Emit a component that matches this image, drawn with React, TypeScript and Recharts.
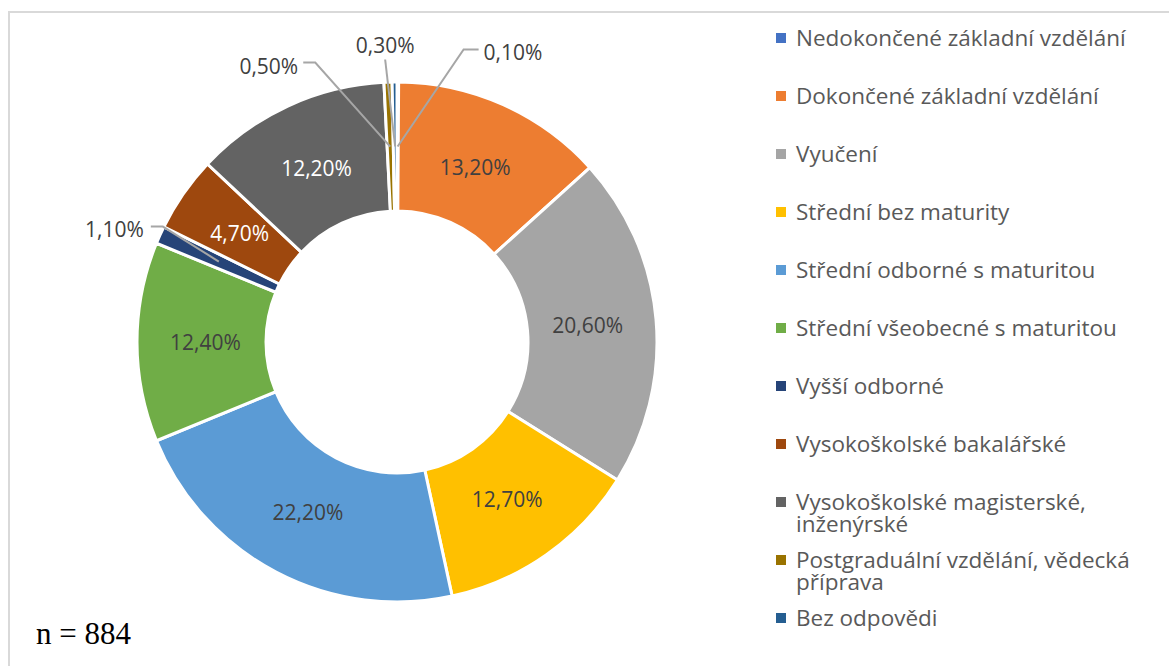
import React from 'react';
import { PieChart, Pie, Cell, Legend } from 'recharts';

const categories = [
  'Nedokončené základní vzdělání',
  'Dokončené základní vzdělání',
  'Vyučení',
  'Střední bez maturity',
  'Střední odborné s maturitou',
  'Střední všeobecné s maturitou',
  'Vyšší odborné',
  'Vysokoškolské bakalářské',
  'Vysokoškolské magisterské, inženýrské',
  'Postgraduální vzdělání, vědecká příprava',
  'Bez odpovědi',
];

const values = [0.1, 13.2, 20.6, 12.7, 22.2, 12.4, 1.1, 4.7, 12.2, 0.5, 0.3];

const colors = [
  '#4472C4',
  '#ED7D31',
  '#A5A5A5',
  '#FFC000',
  '#5B9BD5',
  '#70AD47',
  '#264478',
  '#9E480E',
  '#636363',
  '#997300',
  '#255E91',
];

const sampleNote = 'n = 884';

const FONT = '"Open Sans", "Noto Sans", sans-serif';
const LABEL_DARK = '#404040';
const LABEL_LIGHT = '#ffffff';
const whiteLabelIdx = [7, 8];

// Leader-line label placement (offsets from slice anchor), styling only
const outsidePlacement: Record<number, { elbow?: [number, number]; end: [number, number]; text: [number, number]; anchor: 'start' | 'middle' | 'end' }> = {
  0: { elbow: [66, -97], end: [81, -97], text: [86, -95], anchor: 'start' },
  10: { end: [-10, -87], text: [-10, -102], anchor: 'middle' },
  9: { elbow: [-75, -84], end: [-87, -84], text: [-92, -81], anchor: 'end' },
  6: { elbow: [-56, -35], end: [-68, -35], text: [-75, -33], anchor: 'end' },
};

const data = categories.map((name, i) => ({ name, value: values[i], fill: colors[i] }));

const fmt = (v: number) => v.toFixed(2).replace('.', ',') + '%';

const RAD = Math.PI / 180;

const renderLabel = (props: any) => {
  const { cx, cy, midAngle, innerRadius, outerRadius, index } = props;
  const r = (innerRadius + outerRadius) / 2;
  const ax = cx + r * Math.cos(-midAngle * RAD);
  const ay = cy + r * Math.sin(-midAngle * RAD);
  const text = fmt(values[index]);
  const place = outsidePlacement[index];
  if (place) {
    const pts: [number, number][] = [[ax, ay]];
    if (place.elbow) pts.push([ax + place.elbow[0], ay + place.elbow[1]]);
    pts.push([ax + place.end[0], ay + place.end[1]]);
    return (
      <g key={`lbl-${index}`}>
        <polyline
          points={pts.map((p) => p.join(',')).join(' ')}
          fill="none"
          stroke="#A6A6A6"
          strokeWidth={2}
        />
        <text
          x={ax + place.text[0]}
          y={ay + place.text[1]}
          textAnchor={place.anchor}
          dominantBaseline="central"
          fontFamily={FONT}
          fontSize={21}
          fill={LABEL_DARK}
        >
          {text}
        </text>
      </g>
    );
  }
  const ri = r - 4;
  const x = cx + ri * Math.cos(-midAngle * RAD);
  const y = cy + ri * Math.sin(-midAngle * RAD);
  return (
    <text
      key={`lbl-${index}`}
      x={x}
      y={y}
      textAnchor="middle"
      dominantBaseline="central"
      fontFamily={FONT}
      fontSize={21}
      fill={whiteLabelIdx.includes(index) ? LABEL_LIGHT : LABEL_DARK}
    >
      {text}
    </text>
  );
};

const renderLegend = () => (
  <div style={{ fontFamily: FONT, fontSize: 22.5, color: '#595959' }}>
    {categories.map((c, i) => (
      <div key={c} style={{ display: 'flex', alignItems: 'flex-start', height: 58 }}>
        <span
          style={{
            width: 10,
            height: 10,
            background: colors[i],
            marginTop: 6,
            marginRight: 10,
            flex: 'none',
            display: 'inline-block',
          }}
        />
        <span style={{ lineHeight: '22px', width: 368, whiteSpace: 'normal' }}>{c}</span>
      </div>
    ))}
  </div>
);

export default function App() {
  return (
    <div
      style={{
        position: 'absolute',
        left: 0,
        top: 0,
        width: 1169,
        height: 666,
        overflow: 'hidden',
        background: '#ffffff',
      }}
    >
      <div
        style={{
          position: 'absolute',
          left: 8,
          top: 11,
          width: 1300,
          height: 800,
          border: '2px solid #D9D9D9',
        }}
      />
      <div style={{ position: 'absolute', left: 0, top: 0 }}>
        <PieChart width={1169} height={666} margin={{ top: 0, right: 0, bottom: 0, left: 0 }}>
          <Pie
            data={data}
            dataKey="value"
            nameKey="name"
            cx={397}
            cy={342}
            innerRadius={131}
            outerRadius={260}
            startAngle={90}
            endAngle={-270}
            stroke="#ffffff"
            strokeWidth={3}
            label={renderLabel}
            labelLine={false}
            isAnimationActive={false}
          >
            {data.map((d, i) => (
              <Cell key={d.name} fill={colors[i]} />
            ))}
          </Pie>
          <Legend
            content={renderLegend}
            wrapperStyle={{ position: 'absolute', left: 776, top: 27, width: 393 }}
          />
        </PieChart>
      </div>
      <div
        style={{
          position: 'absolute',
          left: 36,
          top: 615,
          fontFamily: '"Liberation Serif", "Times New Roman", serif',
          fontSize: 31,
          lineHeight: '38px',
          color: '#000000',
        }}
      >
        {sampleNote}
      </div>
    </div>
  );
}
